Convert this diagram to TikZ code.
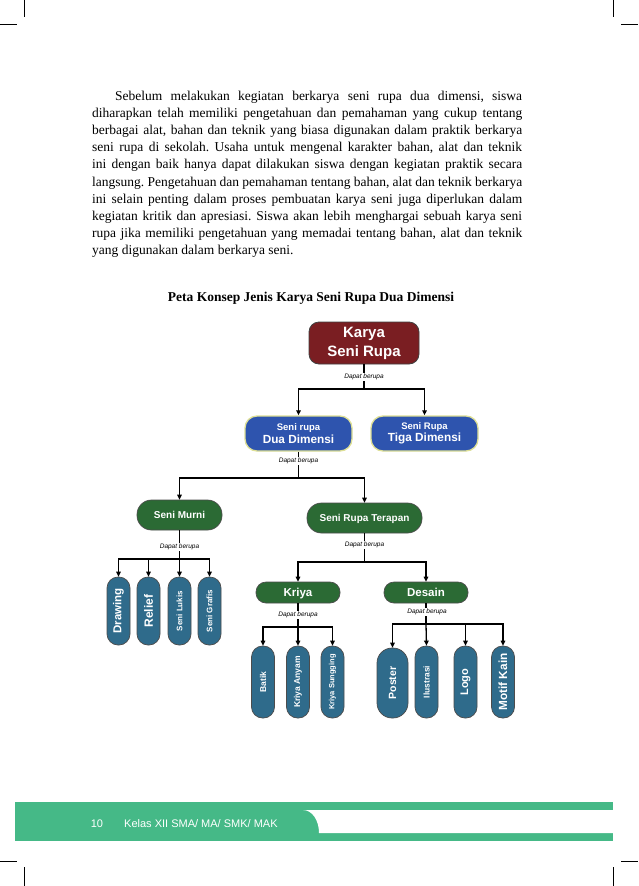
\documentclass[tikz,border=0pt]{standalone}
\usepackage{fontspec}
\setmainfont{Liberation Serif}
\setsansfont{Liberation Sans}
\usepackage{graphicx}
\usepackage{tikz}
\usetikzlibrary{arrows.meta}
\definecolor{karyared}{RGB}{122,30,34}
\definecolor{dimblue}{RGB}{46,84,174}
\definecolor{dimrim}{RGB}{222,224,150}
\definecolor{murnigreen}{RGB}{43,106,52}
\definecolor{leafteal}{RGB}{47,107,139}
\definecolor{footgreen}{RGB}{69,185,135}
\tikzset{
  rootbox/.style={draw=black!75, line width=0.8pt, fill=karyared, rounded corners=10pt,
    text=white, align=center, inner sep=0pt, minimum width=110pt, minimum height=42pt,
    font=\sffamily\bfseries\fontsize{15}{19}\selectfont},
  dimbox/.style={draw=dimrim, line width=1.3pt, fill=dimblue, rounded corners=12pt,
    text=white, align=center, inner sep=0pt, minimum width=107pt, minimum height=35pt,
    font=\sffamily\bfseries\fontsize{11.8}{12.5}\selectfont},
  groupbox/.style={draw=black!70, line width=0.7pt, fill=murnigreen, text=white,
    inner sep=0pt, text height=0.72em, text depth=0pt, font=\sffamily\bfseries},
  leafbox/.style={draw=black!70, line width=0.7pt, fill=leafteal, rounded corners=11pt,
    text=white, inner sep=0pt, minimum width=23pt, font=\sffamily\bfseries},
  linkline/.style={line width=1.3pt},
  linkarrow/.style={linkline, -{Triangle[length=5pt,width=4.5pt]}},
  berupa/.style={font=\sffamily\itshape\fontsize{6.5}{7}\selectfont, fill=white, inner sep=0.6pt},
  cropmark/.style={line width=0.7pt}
}
\newcommand{\leafnode}[5]{%
  \node[leafbox, #1] (#2) at (#3) {\rotatebox{90}{\fontsize{#4}{#4}\selectfont #5}};}

\begin{document}
\begin{tikzpicture}[x=1pt, y=-1pt, font=\sffamily]
  \useasboundingbox (0,0) rectangle (638,886);
  \fill[white] (0,0) rectangle (638,886);
  \draw[cropmark] (24,0) -- (24,17) (0,24) -- (17,24);
  \draw[cropmark] (613,0) -- (613,17) (621,24) -- (638,24);
  \draw[cropmark] (0,861) -- (17,861) (24,867) -- (24,886);
  \draw[cropmark] (621,861) -- (638,861) (613,867) -- (613,886);

  \node[anchor=base west, inner sep=0pt, font=\rmfamily] (intro) at (92,100) {%
    \parbox[t]{430pt}{\fontsize{13.5}{17.2}\selectfont\frenchspacing
      \tolerance=10000 \hbadness=10000 \hyphenpenalty=10000
      \hspace*{23pt}Sebelum melakukan kegiatan berkarya seni rupa dua dimensi, siswa\linebreak
      diharapkan telah memiliki pengetahuan dan pemahaman yang cukup tentang\linebreak
      berbagai alat, bahan dan teknik yang biasa digunakan dalam praktik berkarya\linebreak
      seni rupa di sekolah. Usaha untuk mengenal karakter bahan, alat dan teknik\linebreak
      ini dengan baik hanya dapat dilakukan siswa dengan kegiatan praktik secara\linebreak
      langsung. Pengetahuan dan pemahaman tentang bahan, alat dan teknik berkarya\linebreak
      ini selain penting dalam proses pembuatan karya seni juga diperlukan dalam\linebreak
      kegiatan kritik dan apresiasi. Siswa akan lebih menghargai sebuah karya seni\linebreak
      rupa jika memiliki pengetahuan yang memadai tentang bahan, alat dan teknik\linebreak
      yang digunakan dalam berkarya seni.}};
  \node[anchor=base, inner sep=0pt, font=\rmfamily\bfseries\fontsize{13.5}{16}\selectfont] (title) at (311,301)
    {Peta Konsep Jenis Karya Seni Rupa Dua Dimensi};

  \node[rootbox] (karya) at (364,343) {Karya\\Seni Rupa};
  \node[dimbox] (dua) at (298.5,433.5) {{\fontsize{9.5}{12.5}\selectfont Seni rupa}\\Dua Dimensi};
  \node[dimbox] (tiga) at (424.5,433.5) {{\fontsize{9.5}{12.5}\selectfont Seni Rupa}\\Tiga Dimensi};
  \node[groupbox, minimum width=85pt, minimum height=30pt, rounded corners=14.5pt,
        font=\sffamily\bfseries\fontsize{10}{12}\selectfont] (murni) at (179.5,515) {Seni Murni};
  \node[groupbox, minimum width=115pt, minimum height=30pt, rounded corners=14.5pt,
        font=\sffamily\bfseries\fontsize{10}{12}\selectfont] (terapan) at (364.5,518) {Seni Rupa Terapan};
  \node[groupbox, minimum width=84pt, minimum height=21pt, rounded corners=10pt,
        font=\sffamily\bfseries\fontsize{11.5}{13}\selectfont] (kriya) at (298,592.5) {Kriya};
  \node[groupbox, minimum width=84pt, minimum height=21pt, rounded corners=10pt,
        font=\sffamily\bfseries\fontsize{11.5}{13}\selectfont] (desain) at (426,592.5) {Desain};

  \leafnode{minimum height=68pt}{drawing}{118.5,611}{11.5}{Drawing}
  \leafnode{minimum height=68pt}{relief}{148.5,611}{12}{Relief}
  \leafnode{minimum height=68pt}{lukis}{179.5,611}{8}{Seni Lukis}
  \leafnode{minimum height=68pt}{grafis}{209.5,611}{8}{Seni Grafis}
  \leafnode{minimum height=72pt}{batik}{263,682}{8.5}{Batik}
  \leafnode{minimum height=72pt}{anyam}{298,682}{8.5}{Kriya Anyam}
  \leafnode{minimum height=72pt}{sungging}{332.5,682}{7.5}{Kriya Sungging}
  \leafnode{minimum height=70pt, minimum width=31pt, rounded corners=15pt}{poster}{392.5,683}{10.5}{Poster}
  \leafnode{minimum height=72pt}{ilustrasi}{426.5,682}{8.4}{Ilustrasi}
  \leafnode{minimum height=72pt}{logo}{465.5,682}{11}{Logo}
  \leafnode{minimum height=72pt}{motif}{503,682}{11.8}{Motif Kain}

  \coordinate (j1) at (364,389);
  \coordinate (j2) at (298.5,478);
  \coordinate (j3) at (179.5,559);
  \coordinate (j4) at (364.5,562);
  \coordinate (j5) at (298,627);
  \coordinate (j6) at (426,624);

  \draw[linkline] (karya.south) -- (j1);
  \draw[linkarrow] (j1) -| (dua.north);
  \draw[linkarrow] (j1) -| (tiga.north);
  \draw[linkline] (dua.south) -- (j2);
  \draw[linkarrow] (j2) -| (murni.north);
  \draw[linkarrow] (j2) -| (terapan.north);
  \draw[linkline] (murni.south) -- (j3);
  \draw[linkarrow] (j3) -| (drawing.north);
  \draw[linkarrow] (j3) -| (relief.north);
  \draw[linkarrow] (j3) -- (lukis.north);
  \draw[linkarrow] (j3) -| (grafis.north);
  \draw[linkline] (terapan.south) -- (j4);
  \draw[linkarrow] (j4) -| (kriya.north);
  \draw[linkarrow] (j4) -| (desain.north);
  \draw[linkline] (kriya.south) -- (j5);
  \draw[linkarrow] (j5) -| (batik.north);
  \draw[linkarrow] (j5) -- (anyam.north);
  \draw[linkarrow] (j5) -| (sungging.north);
  \draw[linkline] (desain.south) -- (j6);
  \draw[linkarrow] (j6) -| (poster.north);
  \draw[linkarrow] (j6) -- (ilustrasi.north);
  \draw[linkarrow] (j6) -| (logo.north);
  \draw[linkarrow] (j6) -| (motif.north);

  \node[berupa] (b1) at (364,377) {Dapat berupa};
  \node[berupa] (b2) at (298.5,461) {Dapat berupa};
  \node[berupa] (b3) at (179.5,547) {Dapat berupa};
  \node[berupa] (b4) at (364.5,545) {Dapat berupa};
  \node[berupa] (b5) at (298,615) {Dapat berupa};
  \node[berupa] (b6) at (427,612) {Dapat berupa};

  \fill[footgreen] (15,802) rectangle (613,841);
  \fill[white] (613,810) -- (303,810) .. controls (312,810) and (319,820) .. (319,833) -- (613,833) -- cycle;
  \node[anchor=base, text=white, inner sep=0pt, font=\sffamily\fontsize{11}{13}\selectfont] (pageno) at (97,827) {10};
  \node[anchor=base west, text=white, inner sep=0pt, font=\sffamily\fontsize{11}{13}\selectfont] (kelas) at (124,827)
    {Kelas XII SMA/ MA/ SMK/ MAK};
\end{tikzpicture}
\end{document}
